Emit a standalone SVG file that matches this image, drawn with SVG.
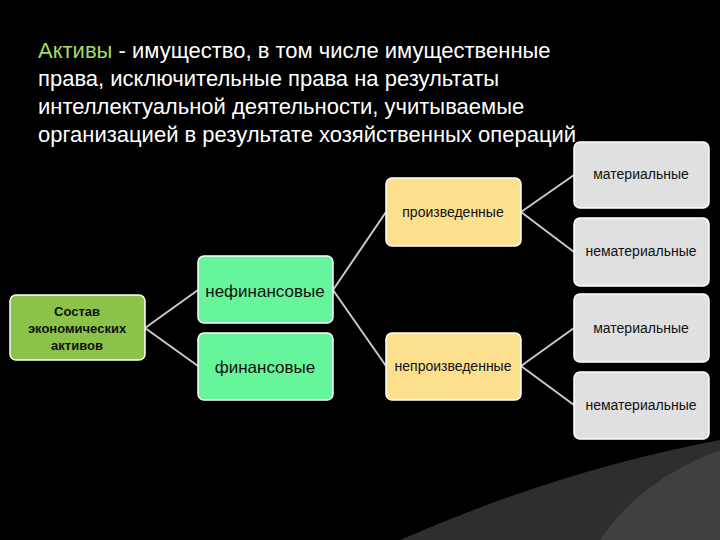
<svg xmlns="http://www.w3.org/2000/svg" width="720" height="540" viewBox="0 0 720 540">
<style>
.t{font-family:"Liberation Sans",Arial,sans-serif;fill:#fff;font-size:22px}
.n{font-family:"Liberation Sans",Arial,sans-serif;fill:#111;text-anchor:middle}
.c{stroke:#c8c8c8;stroke-width:2;fill:none}
.g{fill:#e0e0e0;stroke:#fff;stroke-width:1.5}
.y{fill:#fde08e;stroke:#fff;stroke-width:1.5}
.m{fill:#66f59a;stroke:#fff;stroke-width:1.5}
</style>
<rect width="720" height="540" fill="#000"/>
<path d="M400,540 Q560,470 720,440 L720,540 Z" fill="#2e2e2e"/>
<path d="M600,540 Q640,480 720,450 L720,540 Z" fill="#404040"/>
<text class="t" x="38" y="58"><tspan fill="#a6d96a">Активы</tspan> - имущество, в том числе имущественные</text>
<text class="t" x="38" y="86">права, исключительные права на результаты</text>
<text class="t" x="38" y="114">интеллектуальной деятельности, учитываемые</text>
<text class="t" x="38" y="142">организацией в результате хозяйственных операций</text>
<g id="connectors">
<path class="c" d="M145,328 L198,290 M145,328 L198,366 M333,290 L386,212 M333,290 L386,366 M521,212 L574,175 M521,212 L574,252 M521,366 L574,328 M521,366 L574,405"/>
</g>
<g id="root"><rect x="10" y="295" width="135" height="65" rx="6" fill="#8bc34a" stroke="#fff" stroke-width="1.5"/>
<text class="n" x="77" y="316" font-size="13" font-weight="bold">Состав</text>
<text class="n" x="77" y="333" font-size="13" font-weight="bold">экономических</text>
<text class="n" x="77" y="350" font-size="13" font-weight="bold">активов</text></g>
<g id="nefin"><rect class="m" x="198" y="256" width="135" height="67" rx="6"/><text class="n" x="265" y="297" font-size="17">нефинансовые</text></g>
<g id="fin"><rect class="m" x="198" y="333" width="135" height="67" rx="6"/><text class="n" x="265" y="373" font-size="17">финансовые</text></g>
<g id="proizv"><rect class="y" x="386" y="178" width="135" height="68" rx="6"/><text class="n" x="453" y="217" font-size="14">произведенные</text></g>
<g id="neproizv"><rect class="y" x="386" y="333" width="135" height="67" rx="6"/><text class="n" x="453" y="371" font-size="14">непроизведенные</text></g>
<g id="g1"><rect class="g" x="574" y="142" width="135" height="66" rx="6"/><text class="n" x="641" y="179" font-size="14">материальные</text></g>
<g id="g2"><rect class="g" x="574" y="218" width="135" height="68" rx="6"/><text class="n" x="641" y="256" font-size="14">нематериальные</text></g>
<g id="g3"><rect class="g" x="574" y="294" width="135" height="68" rx="6"/><text class="n" x="641" y="333" font-size="14">материальные</text></g>
<g id="g4"><rect class="g" x="574" y="372" width="135" height="67" rx="6"/><text class="n" x="641" y="410" font-size="14">нематериальные</text></g>
</svg>
